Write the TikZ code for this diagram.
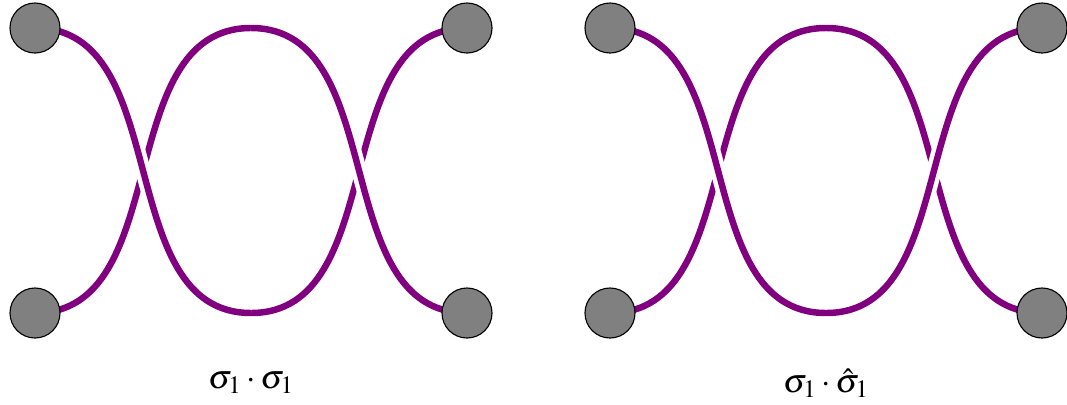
\documentclass[tikz,border=0pt]{standalone}
\usepackage{mathptmx}
\definecolor{braidpurple}{RGB}{128,0,128}
\begin{document}
\begin{tikzpicture}[
        x=0.025cm, y=-0.025cm,
        bead/.style={
            circle,
            draw=black,
            fill=gray,
            line width=0.8pt,
            minimum size=1.25cm,
            inner sep=0pt
        },
        strand/.style={draw=braidpurple, line width=4.6pt},
        overstrand/.style={strand, preaction={draw=white, line width=11pt}},
        braidlabel/.style={font=\fontsize{24}{28}\selectfont}
    ]
        \useasboundingbox (0,0) rectangle (1067,404);

        % Left braid
        \coordinate (l-tl) at (35,28);
        \coordinate (l-tr) at (467,28);
        \coordinate (l-bl) at (35,313);
        \coordinate (l-br) at (467,313);
        \coordinate (l-top) at (251,28);
        \coordinate (l-bot) at (251,313);

        \draw[strand] (l-bot) to[out=0,in=180] (l-tr);
        \draw[strand] (l-bl) to[out=0,in=180] (l-top);
        \draw[overstrand] (l-tl) to[out=0,in=180] (l-bot);
        \draw[overstrand] (l-top) to[out=0,in=180] (l-br);

        \node[braidlabel] (l-label) at (251,383) {$\sigma_1\cdot\sigma_1$};

        % Right braid
        \coordinate (r-tl) at (610,28);
        \coordinate (r-tr) at (1042,28);
        \coordinate (r-bl) at (610,313);
        \coordinate (r-br) at (1042,313);
        \coordinate (r-top) at (826,28);
        \coordinate (r-bot) at (826,313);

        \draw[strand] (r-bl) to[out=0,in=180] (r-top) to[out=0,in=180] (r-br);
        \draw[overstrand] (r-tl) to[out=0,in=180] (r-bot) to[out=0,in=180] (r-tr);

        \node[braidlabel] (r-label) at (826,383) {$\sigma_1\cdot\hat{\sigma}_1$};

        % Beads
        \foreach \b in {l-tl,l-tr,l-bl,l-br,r-tl,r-tr,r-bl,r-br}
            \node[bead] (bead-\b) at (\b) {};
    \end{tikzpicture}
\end{document}
